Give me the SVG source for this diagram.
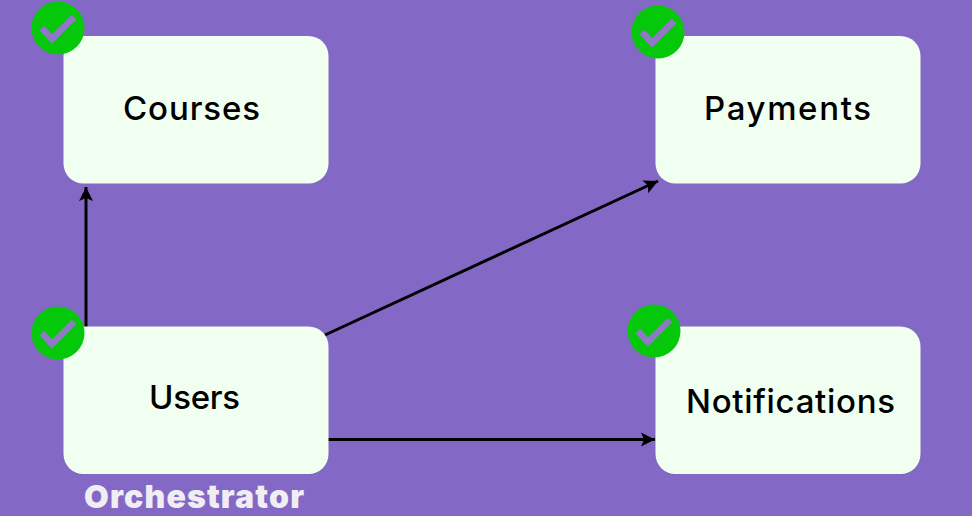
<svg xmlns="http://www.w3.org/2000/svg" width="972" height="516" viewBox="0 0 972 516">
<style>
.box{fill:#f1fff1}
.lbl{font-family:"Inter","Open Sans","Liberation Sans",sans-serif;font-size:33px;font-weight:500;fill:#000;text-anchor:middle}
.con{stroke:#000;stroke-width:3;fill:none;marker-end:url(#arr)}
.badge{fill:#05c80a}
.tick{fill:none;stroke:#8f78c8;stroke-width:6.500}
</style>
<defs>
<marker id="arr" markerUnits="userSpaceOnUse" markerWidth="16" markerHeight="16" refX="14" refY="8" orient="auto"><path d="M0 1L14 8L0 15L3 8Z" fill="#000"/></marker>
<g id="chk"><circle r="26.500" class="badge"/><path class="tick" d="M-16 0L-6 11L16-11"/></g>
</defs>
<rect width="972" height="516" fill="#8468c6"/>
<g id="connectors">
<path class="con" d="M86 327V187"/>
<path class="con" d="M325 335L658 181"/>
<path class="con" d="M328 439.500H655"/>
</g>
<g id="courses"><rect class="box" x="63.500" y="36" width="265" height="147.500" rx="20"/><text class="lbl" x="191.500" y="120" textLength="137" lengthAdjust="spacing">Courses</text><use href="#chk" x="58" y="28"/></g>
<g id="payments"><rect class="box" x="655.500" y="36" width="265" height="147.500" rx="20"/><text class="lbl" x="787.500" y="120" textLength="167" lengthAdjust="spacing">Payments</text><use href="#chk" x="658" y="32"/></g>
<g id="users"><rect class="box" x="63.500" y="326.500" width="265" height="147.500" rx="20"/><text class="lbl" x="194.500" y="409" textLength="91" lengthAdjust="spacing">Users</text><use href="#chk" x="58" y="333"/></g>
<g id="notifications"><rect class="box" x="655.500" y="326.500" width="265" height="147.500" rx="20"/><text class="lbl" x="790.500" y="413" textLength="209" lengthAdjust="spacing">Notifications</text><use href="#chk" x="654" y="331"/></g>
<text x="194" y="508" font-family="Inter,'Open Sans','Liberation Sans',sans-serif" font-size="32" font-weight="900" fill="#f0eef5" text-anchor="middle" textLength="220" lengthAdjust="spacing">Orchestrator</text>
</svg>
